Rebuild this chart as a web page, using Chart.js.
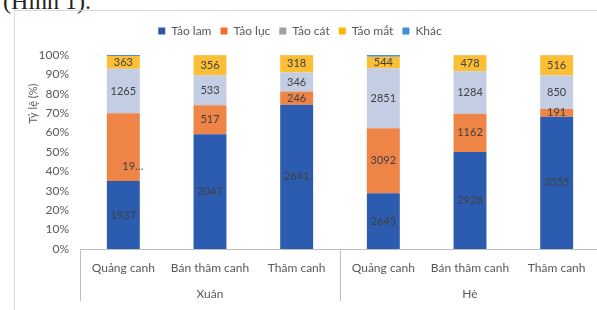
<!DOCTYPE html>
<html><head><meta charset="utf-8">
<script src="https://cdn.jsdelivr.net/npm/chart.js@4"></script>
<style>
html,body{margin:0;padding:0;background:#fff;overflow:hidden;width:597px;height:310px;}
#cap{position:absolute;left:3px;top:-11px;font:24px/24px "Liberation Serif",serif;color:#222;white-space:nowrap;}
#frame{position:absolute;left:14px;top:10px;width:620px;height:330px;border:1px solid #d9d9d9;box-sizing:border-box;}
#wrap{position:absolute;left:0;top:0;width:600px;height:310px;}
</style></head><body>
<div id="cap">(Hình 1).</div>
<div id="frame"></div>
<div id="wrap"><canvas id="c"></canvas></div>
<script>
const categories = ["Quảng canh", "Bán thâm canh", "Thâm canh", "Quảng canh", "Bán thâm canh", "Thâm canh"];
const seasons = ["Xuân", "Hè"];
const seasonSizes = [3, 3];
const seriesNames = ["Tảo lam", "Tảo lục", "Tảo cát", "Tảo mắt", "Khác"];
const taoLam = [1937, 2047, 2641, 2645, 2928, 3355];
const taoLuc = [1935, 517, 246, 3092, 1162, 191];
const taoCat = [1265, 533, 346, 2851, 1284, 850];
const taoMat = [363, 356, 318, 544, 478, 516];
const khac = [30, 5, 3, 85, 10, 5];
const yTickValues = [0, 10, 20, 30, 40, 50, 60, 70, 80, 90, 100];
const yTitle = "Tỷ lệ (%)";
const truncatedLabel = { series: 1, index: 0 };

const barColors = ["#2C5CAF", "#EE8446", "#C3CEE4", "#FBBE35", "#4A90D6"];
const legendColors = ["#2F55A5", "#EE6E2C", "#A0A0A0", "#FFB400", "#3F8FD8"];
const FONT = "Lato, 'Liberation Sans', sans-serif";
const TXT = "#595959";

const counts = [taoLam, taoLuc, taoCat, taoMat, khac];
const totals = categories.map((_, i) => counts.reduce((s, a) => s + a[i], 0));
const toPct = a => a.map((v, i) => v / totals[i] * 100);

Chart.defaults.font.family = FONT;
Chart.defaults.color = TXT;

const legendGap = {
  id: 'legendGap',
  beforeLayout(chart) {
    const lg = chart.legend;
    if (lg && !lg._patched) {
      const f = lg.fit;
      lg.fit = function () { f.call(this); this.height += 8; };
      lg._patched = true;
    }
  }
};

const extras = {
  id: 'extras',
  afterDatasetsDraw(chart) {
    const ctx = chart.ctx;
    ctx.save();
    ctx.font = "11px " + FONT;
    ctx.fillStyle = "#404040";
    ctx.textBaseline = "middle";
    for (let d = 0; d < 4; d++) {
      const meta = chart.getDatasetMeta(d);
      meta.data.forEach((el, i) => {
        const p = el.getProps(['x', 'y', 'base'], true);
        const cy = (p.y + p.base) / 2;
        const v = counts[d][i];
        if (d === truncatedLabel.series && i === truncatedLabel.index) {
          ctx.textAlign = "left";
          ctx.fillText(String(v).slice(0, 2) + "…", p.x - 1, cy + 19);
        } else {
          ctx.textAlign = "center";
          ctx.fillText(String(v), p.x, cy);
        }
      });
    }
    ctx.restore();
  },
  afterDraw(chart) {
    const ctx = chart.ctx;
    const xs = chart.scales.x;
    const ca = chart.chartArea;
    ctx.save();
    ctx.strokeStyle = "#bfbfbf";
    ctx.lineWidth = 1;
    const bounds = [xs.left];
    let acc = 0;
    seasonSizes.forEach(n => { acc += n; bounds.push(acc >= categories.length ? xs.right : (xs.getPixelForValue(acc - 1) + xs.getPixelForValue(acc)) / 2); });
    bounds.forEach(bx => {
      const x = Math.round(bx) + 0.5;
      ctx.beginPath(); ctx.moveTo(x, xs.top); ctx.lineTo(x, xs.top + 52); ctx.stroke();
    });
    ctx.font = "12px " + FONT;
    ctx.fillStyle = TXT;
    ctx.textAlign = "center";
    ctx.textBaseline = "middle";
    let start = 0;
    seasons.forEach((s, g) => {
      const a = xs.getPixelForValue(start), b = xs.getPixelForValue(start + seasonSizes[g] - 1);
      ctx.fillText(s, (a + b) / 2, xs.top + 45);
      start += seasonSizes[g];
    });
    ctx.translate(33, ca.top + (ca.bottom - ca.top) * 0.25);
    ctx.rotate(-Math.PI / 2);
    ctx.font = "11px " + FONT;
    ctx.fillText(yTitle, 0, 0);
    ctx.restore();
  }
};

new Chart(document.getElementById('c'), {
  type: 'bar',
  data: {
    labels: categories,
    datasets: seriesNames.map((n, i) => ({
      label: n,
      data: toPct(counts[i]),
      backgroundColor: barColors[i],
      borderWidth: 0,
      barPercentage: 0.38,
      categoryPercentage: 1
    }))
  },
  options: {
    responsive: true,
    maintainAspectRatio: false,
    animation: false,
    layout: { padding: { top: 16, left: 0, right: 0, bottom: 0 } },
    plugins: {
      tooltip: { enabled: false },
      legend: {
        position: 'top',
        labels: {
          boxWidth: 7, boxHeight: 7, padding: 9, color: TXT,
          font: { size: 12, family: FONT },
          generateLabels: () => seriesNames.map((n, i) => ({
            text: n, fillStyle: legendColors[i], strokeStyle: legendColors[i],
            lineWidth: 0, hidden: false, datasetIndex: i, fontColor: TXT
          }))
        }
      }
    },
    scales: {
      x: {
        stacked: true,
        grid: { display: false, drawTicks: false },
        border: { display: true, color: "#bfbfbf" },
        ticks: { font: { size: 12 }, color: TXT, padding: 12, maxRotation: 0, autoSkip: false },
        afterFit(s) { s.height = 61; }
      },
      y: {
        stacked: true,
        min: 0, max: 100,
        grid: { display: false, drawTicks: false },
        border: { display: false },
        afterBuildTicks(s) { s.ticks = yTickValues.map(v => ({ value: v })); },
        ticks: { font: { size: 12 }, color: TXT, padding: 11, callback: v => v + "%" },
        afterFit(s) { s.width = 80; }
      }
    }
  },
  plugins: [legendGap, extras]
});
</script></body></html>
